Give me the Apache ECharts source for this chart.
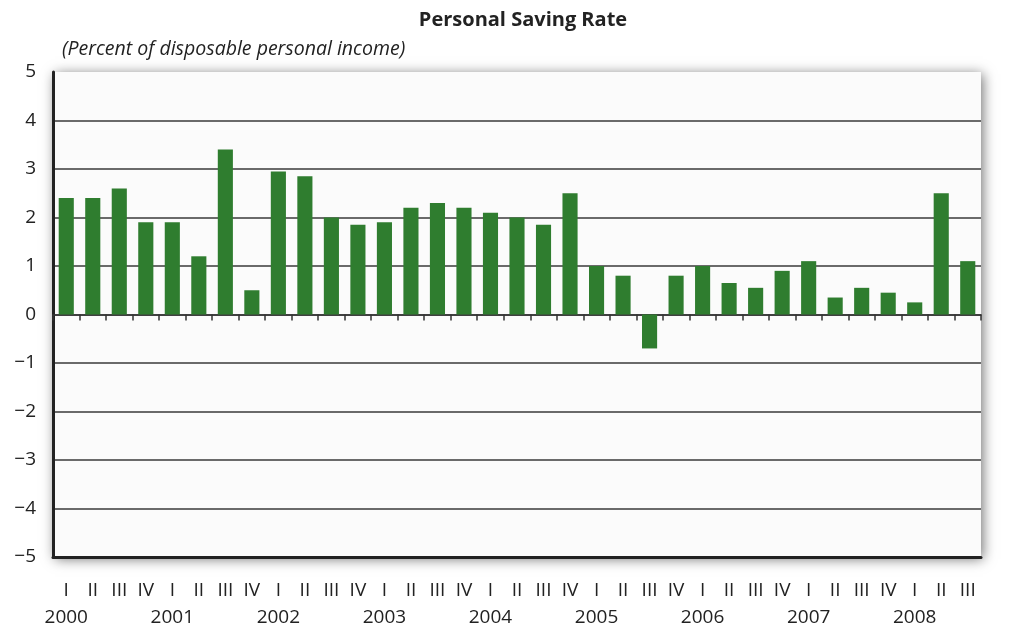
<!DOCTYPE html>
<html>
<head>
<meta charset="utf-8">
<script src="https://cdn.jsdelivr.net/npm/echarts@6/dist/echarts.min.js"></script>
<style>
  html, body { margin: 0; padding: 0; background: #ffffff; }
  #chart-root { width: 1011px; height: 627px; }
</style>
</head>
<body>
<div id="chart-root"></div>
<script>
// quarterly personal saving rate, 2000 Q1 .. 2008 Q3
const years = ['2000', '2001', '2002', '2003', '2004', '2005', '2006', '2007', '2008'];
const quarters = ['I', 'II', 'III', 'IV'];
const savingRate = [
  2.4, 2.4, 2.6, 1.9,
  1.9, 1.2, 3.4, 0.5,
  2.95, 2.85, 2.0, 1.85,
  1.9, 2.2, 2.3, 2.2,
  2.1, 2.0, 1.85, 2.5,
  1.0, 0.8, -0.7, 0.8,
  1.0, 0.65, 0.55, 0.9,
  1.1, 0.35, 0.55, 0.45,
  0.25, 2.5, 1.1
];
const yTicks = [-5, -4, -3, -2, -1, 0, 1, 2, 3, 4, 5];

const categories = savingRate.map((_, i) => years[Math.floor(i / 4)] + ' ' + quarters[i % 4]);

const FONT = '"Open Sans", "Noto Sans", sans-serif';
const INK = '#222222';
const BAR = '#2f7d2f';

// hide the gridline at the top (max) tick
const gridColors = yTicks.map((t) => (t === 5 ? 'rgba(0,0,0,0)' : '#3a3a3a'));

const option = {
  backgroundColor: '#ffffff',
  animation: false,
  textStyle: { fontFamily: FONT, color: INK },
  title: [
    {
      text: 'Personal Saving Rate',
      left: 518,
      textAlign: 'center',
      top: 5,
      textStyle: { fontFamily: FONT, fontSize: 20, fontWeight: 'bold', color: INK },
    },
    {
      text: '(Percent of disposable personal income)',
      left: 57,
      top: 34,
      textStyle: { fontFamily: FONT, fontSize: 19.5, fontStyle: 'italic', fontWeight: 'normal', color: INK },
    },
  ],
  grid: {
    left: 53,
    right: 30,
    top: 72,
    bottom: 70,
    outerBoundsMode: 'none',
    show: true,
    borderWidth: 0,
    backgroundColor: '#fbfbfb',
    shadowColor: 'rgba(0,0,0,0.55)',
    shadowBlur: 12,
    shadowOffsetX: 2,
    shadowOffsetY: 2,
  },
  xAxis: [
    {
      type: 'category',
      data: categories,
      axisLine: { onZero: true, lineStyle: { color: '#333', width: 1.5 } },
      axisTick: { show: true, interval: 0, length: 6, lineStyle: { color: '#333', width: 1.5 } },
      axisLabel: { show: false },
      splitLine: { show: false },
    },
    {
      type: 'category',
      data: categories,
      position: 'bottom',
      axisLine: { onZero: false, lineStyle: { color: INK, width: 3 } },
      axisTick: { show: false },
      axisLabel: {
        interval: 0,
        margin: 20,
        fontFamily: FONT,
        fontSize: 19,
        lineHeight: 27,
        color: INK,
        formatter: (v, i) => (i % 4 === 0 ? quarters[0] + '\n' + years[i / 4] : quarters[i % 4]),
      },
      splitLine: { show: false },
    },
  ],
  yAxis: {
    type: 'value',
    min: -5,
    max: 5,
    interval: 1,
    axisLine: { show: true, lineStyle: { color: INK, width: 3 } },
    axisTick: { show: false },
    axisLabel: {
      fontFamily: FONT,
      fontSize: 19,
      color: INK,
      margin: 17,
      formatter: (v) => String(v).replace('-', '\u2212'),
    },
    splitLine: { show: true, lineStyle: { color: gridColors, width: 1.5 } },
  },
  series: [
    {
      type: 'bar',
      xAxisIndex: 0,
      data: savingRate,
      barWidth: '57%',
      itemStyle: { color: BAR },
    },
  ],
};

const chart = echarts.init(document.getElementById('chart-root'), null, { renderer: 'canvas' });
chart.setOption(option);
</script>
</body>
</html>
